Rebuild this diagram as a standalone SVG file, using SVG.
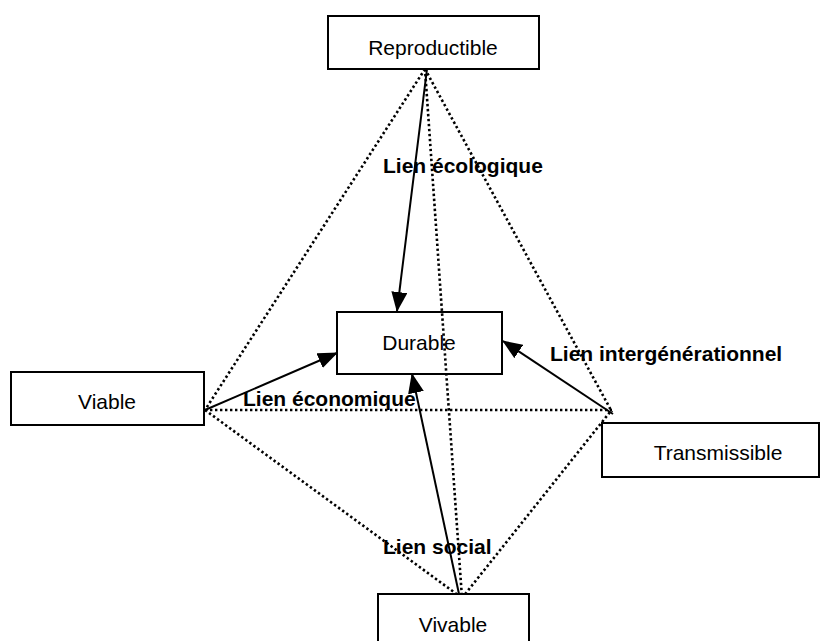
<svg xmlns="http://www.w3.org/2000/svg" width="821" height="641" viewBox="0 0 821 641">
<defs>
<style>
.box{fill:#fff;stroke:#000;stroke-width:2}
.lbl{font-family:"Liberation Sans",Arial,sans-serif;font-size:21px;fill:#000;text-anchor:middle}
.link{font-family:"Liberation Sans",Arial,sans-serif;font-size:21px;font-weight:bold;fill:#000}
.dot{stroke:#000;stroke-width:2.6;stroke-dasharray:2.4 2.6;fill:none}
.arr{stroke:#000;stroke-width:2;fill:none;marker-end:url(#ah)}
</style>
<marker id="ah" markerUnits="userSpaceOnUse" markerWidth="20" markerHeight="16" refX="19" refY="8" orient="auto">
<path d="M0,0 L20,8 L0,16 z" fill="#000"/>
</marker>
</defs>
<rect width="821" height="641" fill="#fff"/>
<g id="connectors">
<line class="dot" x1="425" y1="69" x2="205" y2="410"/>
<line class="dot" x1="425" y1="69" x2="612" y2="412"/>
<line class="dot" x1="425" y1="69" x2="462" y2="598"/>
<line class="dot" x1="205" y1="410" x2="612" y2="410"/>
<line class="dot" x1="205" y1="410" x2="462" y2="598"/>
<line class="dot" x1="462" y1="598" x2="610" y2="412"/>
<line class="arr" x1="427" y1="69" x2="397" y2="311"/>
<line class="arr" x1="205" y1="410" x2="337" y2="353"/>
<line class="arr" x1="613" y1="414" x2="503" y2="341"/>
<line class="arr" x1="459" y1="594" x2="412" y2="374"/>
</g>
<g id="reproductible"><rect class="box" x="328" y="16" width="211" height="53"/><text class="lbl" x="433" y="55">Reproductible</text></g>
<g id="durable"><rect class="box" x="337" y="312" width="165" height="62" style="fill:none"/><text class="lbl" x="419" y="350">Durable</text></g>
<g id="viable"><rect class="box" x="11" y="372" width="193" height="53"/><text class="lbl" x="107" y="409">Viable</text></g>
<g id="transmissible"><rect class="box" x="602" y="423" width="217" height="54"/><text class="lbl" x="718" y="460">Transmissible</text></g>
<g id="vivable"><rect class="box" x="378" y="594" width="151" height="52"/><text class="lbl" x="453" y="632">Vivable</text></g>
<g id="labels">
<text class="link" x="383" y="173">Lien écologique</text>
<text class="link" x="550" y="361">Lien intergénérationnel</text>
<text class="link" x="243" y="406">Lien économique</text>
<text class="link" x="383" y="554">Lien social</text>
</g>
</svg>
